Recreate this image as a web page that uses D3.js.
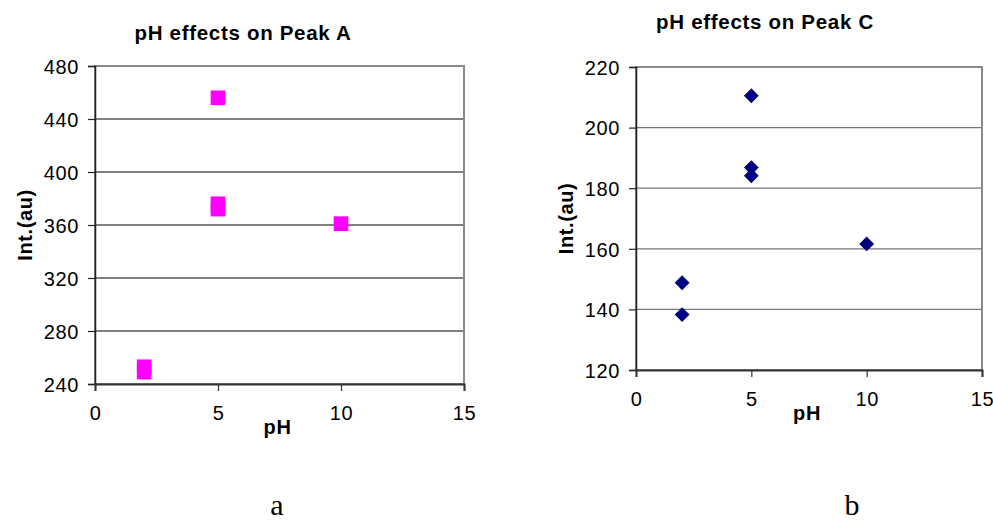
<!DOCTYPE html>
<html>
<head>
<meta charset="utf-8">
<script src="https://cdn.jsdelivr.net/npm/d3@7"></script>
<style>
  html, body { margin: 0; padding: 0; background: #fff; }
  svg { display: block; }
  text { font-family: "Liberation Sans", Arial, sans-serif; fill: #000; }
</style>
</head>
<body>
<svg id="chart" width="993" height="523"></svg>
<script>
// ---- Data ----
const phA = [2, 2, 5, 5, 5, 10];
const intA = [253, 249, 456, 376, 372, 361];
const yTicksA = [240, 280, 320, 360, 400, 440, 480];

const phC = [2, 2, 5, 5, 5, 10];
const intC = [148.8, 138.3, 210.5, 186.8, 184.1, 161.6];
const yTicksC = [120, 140, 160, 180, 200, 220];

const xTicks = [0, 5, 10, 15];

const titleA = "pH effects on Peak A";
const titleC = "pH effects on Peak C";
const xTitle = "pH";
const yTitle = "Int.(au)";
const panelLabels = ["a", "b"];

const svg = d3.select("#chart");
const SANS = '"Liberation Sans", Arial, sans-serif';

function drawPanel(opt) {
  const x = d3.scaleLinear().domain([0, 15]).range([opt.left, opt.right]);
  const y = d3.scaleLinear().domain(opt.yDomain).range([opt.bottom, opt.top]);
  const g = svg.append("g");

  // gridlines
  g.selectAll("line.grid").data(opt.yTicks.slice(1, -1)).enter().append("line")
    .attr("x1", opt.left).attr("x2", opt.right)
    .attr("y1", d => y(d)).attr("y2", d => y(d))
    .attr("stroke", opt.gridColor).attr("stroke-width", 1.2);

  // plot area border (top/right gray)
  g.append("rect")
    .attr("x", opt.left).attr("y", opt.top)
    .attr("width", opt.right - opt.left).attr("height", opt.bottom - opt.top)
    .attr("fill", "none").attr("stroke", "#8a8a8a").attr("stroke-width", 2);

  // y axis
  const yAxis = d3.axisLeft(y).tickValues(opt.yTicks).tickSize(7).tickPadding(9)
    .tickFormat(d3.format("d"));
  const ya = g.append("g").attr("transform", `translate(${opt.left},0)`).call(yAxis);
  ya.select(".domain").attr("stroke", "#222").attr("stroke-width", 1.5);
  ya.selectAll(".tick line").attr("stroke", "#222").attr("stroke-width", 1.2);
  ya.selectAll(".tick text")
    .style("font-family", SANS)
    .style("font-size", "20px").style("letter-spacing", "0.6px")
    .attr("fill", "#000").attr("dy", "0.36em");

  // x axis
  const xAxis = d3.axisBottom(x).tickValues(xTicks).tickSize(7).tickPadding(15)
    .tickFormat(d3.format("d"));
  const xa = g.append("g").attr("transform", `translate(0,${opt.bottom})`).call(xAxis);
  xa.select(".domain").attr("stroke", "#333").attr("stroke-width", 2);
  xa.selectAll(".tick line").attr("stroke", "#333").attr("stroke-width", 1.2);
  xa.selectAll(".tick text")
    .style("font-family", SANS)
    .style("font-size", "20px").style("letter-spacing", "0.6px")
    .attr("fill", "#000");

  // markers
  const sym = d3.symbol().type(d3.symbolSquare).size(opt.markerSize);
  g.selectAll("path.pt").data(opt.xs.map((v, i) => [v, opt.ys[i]])).enter().append("path")
    .attr("d", sym)
    .attr("transform", d => `translate(${x(d[0])},${y(d[1])}) rotate(${opt.rotate})`)
    .attr("fill", opt.color);

  // titles
  g.append("text").attr("x", opt.titleX).attr("y", opt.titleY)
    .attr("text-anchor", "middle").style("font-weight", "bold")
    .style("font-size", "20.5px").style("letter-spacing", "0.7px").text(opt.title);

  g.append("text").attr("x", (opt.left + opt.right) / 2 - 2).attr("y", opt.bottom + 50)
    .attr("text-anchor", "middle").style("font-weight", "bold")
    .style("font-size", "20px").style("letter-spacing", "0.6px").text(xTitle);

  g.append("text")
    .attr("transform", `translate(${opt.yTitleX},${(opt.top + opt.bottom) / 2}) rotate(-90)`)
    .attr("text-anchor", "middle").style("font-weight", "bold")
    .style("font-size", "20px").style("letter-spacing", "0.6px").text(yTitle);

  g.append("text").attr("x", opt.labelX).attr("y", 515)
    .attr("text-anchor", "middle")
    .style("font-family", '"Liberation Serif", "Times New Roman", serif')
    .style("font-size", "30px").text(opt.label);
}

drawPanel({
  left: 95, right: 464, top: 66, bottom: 384,
  yDomain: [240, 480], yTicks: yTicksA,
  xs: phA, ys: intA, color: "#ff00ff", markerSize: 215, rotate: 0,
  gridColor: "#000",
  title: titleA, titleX: 243, titleY: 40, yTitleX: 32, labelX: 277, label: panelLabels[0]
});

drawPanel({
  left: 636, right: 982, top: 67, bottom: 370,
  yDomain: [120, 220], yTicks: yTicksC,
  xs: phC, ys: intC, color: "#000080", markerSize: 110, rotate: 45,
  gridColor: "#777",
  title: titleC, titleX: 765, titleY: 29, yTitleX: 573, labelX: 852, label: panelLabels[1]
});
</script>
</body>
</html>
